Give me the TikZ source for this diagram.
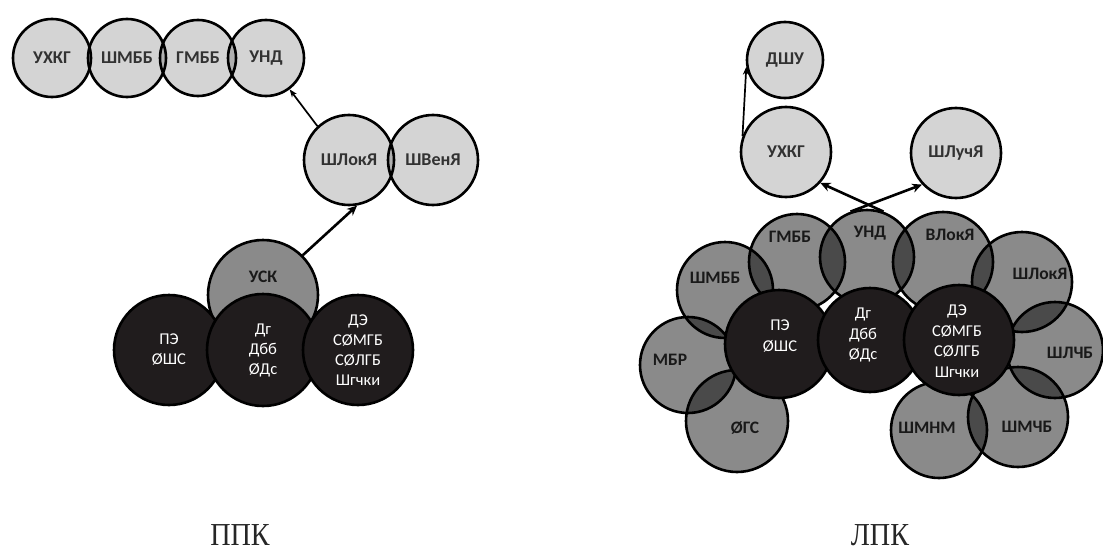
\documentclass[tikz,border=0pt]{standalone}
\usepackage{fontspec}
\setmainfont{Carlito}
\newfontfamily\capfont[FakeStretch=0.88]{Liberation Serif}
\usepackage{xcolor}
\usetikzlibrary{arrows.meta, positioning, calc}
\definecolor{darkfill}{RGB}{32,28,29}
\definecolor{lighttext}{RGB}{50,50,50}
\definecolor{graytext}{RGB}{25,25,25}

\begin{document}
\begin{tikzpicture}[x=1pt, y=-1pt,
  lightc/.style={circle, draw=black, line width=2.6pt, fill=black, fill opacity=0.17,
    text opacity=1, inner sep=0pt, minimum size=#1, text=lighttext,
    font=\fontsize{18}{20}\selectfont\bfseries},
  grayc/.style={circle, draw=black, line width=2.6pt, fill=black, fill opacity=0.46,
    inner sep=0pt, minimum size=#1},
  darkc/.style={circle, draw=black, line width=2.6pt, fill=darkfill, inner sep=0pt,
    minimum size=#1, align=center, text=white, font=\fontsize{16.5}{20}\selectfont},
  glabel/.style={text=graytext, font=\fontsize{17.5}{20}\selectfont\bfseries},
  dlabel/.style={align=center, text=white, font=\fontsize{16.5}{20.5}\selectfont},
  arr/.style={-{Stealth[length=10pt, width=9pt]}, line width=2.6pt},
  thinarr/.style={-{Stealth[length=8pt, width=6pt]}, line width=1.7pt},
  caption/.style={anchor=base, inner sep=0pt, text=black!85,
    font=\capfont\fontsize{32}{32}\selectfont}
]
  \path[use as bounding box, fill=white] (0,0) rectangle (1103,551);

  % left cluster (ППК)
  \node[lightc=78pt] (ukhgl) at (52,58) {УХКГ};
  \node[lightc=78pt] (shmbbl) at (127,58) {ШМББ};
  \node[lightc=76pt] (gmbbl) at (198,58) {ГМББ};
  \node[lightc=76pt] (undl) at (266,58) {УНД};
  \node[lightc=90pt] (shlokl) at (349,160) {ШЛокЯ};
  \node[lightc=90pt] (shvenl) at (433,160) {ШВенЯ};
  \node[grayc=110pt] (uskl) at (263,295) {};
  \node[glabel] (uskl-t) at ($(uskl)+(0,-18)$) {УСК};
  \node[darkc=110pt] (pel) at (169,350) {ПЭ\\ØШС};
  \node[darkc=112pt] (dgl) at (263,350) {Дг\\Дбб\\ØДс};
  \node[darkc=110pt] (del) at (358,350) {ДЭ\\СØМГБ\\СØЛГБ\\Шгчки};
  \draw[arr] (uskl.45) -- (shlokl.-80);
  \draw[thinarr] (shlokl.133) -- (undl.-53);

  % right cluster (ЛПК)
  \node[grayc=96pt] (gmbbr) at (797,262) {};
  \node[grayc=94pt] (undr) at (867,257) {};
  \node[grayc=100pt] (vlokr) at (943,262) {};
  \node[grayc=100pt] (shlokr) at (1022,282) {};
  \node[grayc=96pt] (shlchbr) at (1055,350) {};
  \node[grayc=100pt] (shmchbr) at (1018,417) {};
  \node[grayc=96pt] (shmnmr) at (939,430) {};
  \node[grayc=102pt] (ogsr) at (737,421) {};
  \node[grayc=96pt] (mbrr) at (688,365) {};
  \node[grayc=96pt] (shmbbr) at (725,290) {};
  \node[darkc=108pt] (per) at (779,344) {};
  \node[darkc=104pt] (dgr) at (870,340) {};
  \node[darkc=110pt] (der) at (959,340) {};
  \node[lightc=76pt] (dshur) at (785,60) {ДШУ};
  \node[lightc=90pt] (ukhgr) at (786,152) {УХКГ};
  \node[lightc=90pt] (shluchr) at (956,153) {ШЛучЯ};

  \node[glabel] (gmbbr-t) at ($(gmbbr)+(-7,-25)$) {ГМББ};
  \node[glabel] (undr-t) at ($(undr)+(3,-24)$) {УНД};
  \node[glabel] (vlokr-t) at ($(vlokr)+(7,-27)$) {ВЛокЯ};
  \node[glabel] (shlokr-t) at ($(shlokr)+(18,-8)$) {ШЛокЯ};
  \node[glabel] (shlchbr-t) at ($(shlchbr)+(15,3)$) {ШЛЧБ};
  \node[glabel] (shmchbr-t) at ($(shmchbr)+(9,10)$) {ШМЧБ};
  \node[glabel] (shmnmr-t) at ($(shmnmr)+(-12,-2)$) {ШМНМ};
  \node[glabel] (ogsr-t) at ($(ogsr)+(8,7)$) {ØГС};
  \node[glabel] (mbrr-t) at ($(mbrr)+(-18,-5)$) {МБР};
  \node[glabel] (shmbbr-t) at ($(shmbbr)+(-10,-12)$) {ШМББ};
  \node[dlabel] (per-t) at ($(per)+(1,-8)$) {ПЭ\\ØШС};
  \node[dlabel] (dgr-t) at ($(dgr)+(-7,-5)$) {Дг\\Дбб\\ØДс};
  \node[dlabel] (der-t) at ($(der)+(-2,1)$) {ДЭ\\СØМГБ\\СØЛГБ\\Шгчки};

  \draw[arr] (undr.70) -- (ukhgr.-42);
  \draw[arr] (undr.110) -- (shluchr.-137);
  \draw[thinarr] (ukhgr.160) -- (dshur.190);

  \node[caption] (ppk) at (240,545) {ППК};
  \node[caption] (lpk) at (880,545) {ЛПК};
\end{tikzpicture}
\end{document}
